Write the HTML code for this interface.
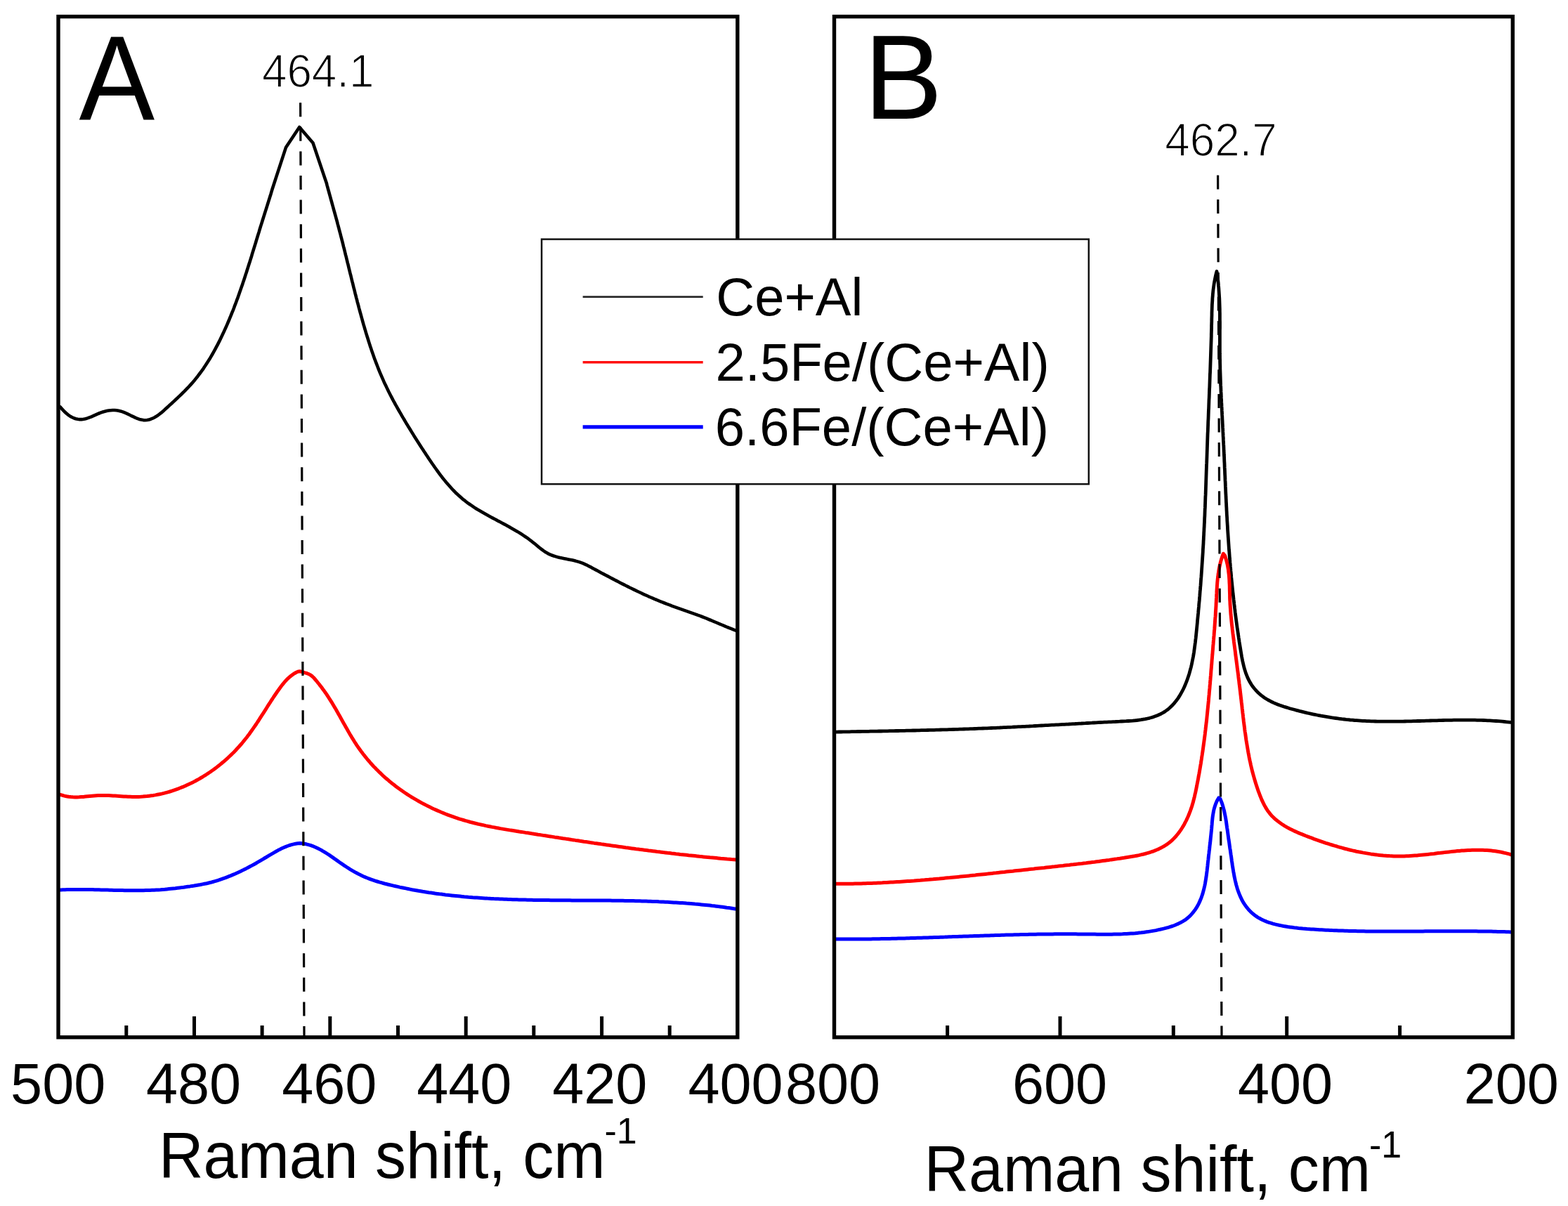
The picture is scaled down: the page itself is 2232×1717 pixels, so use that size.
<!DOCTYPE html>
<html><head><meta charset="utf-8"><title>Raman spectra</title>
<style>
html,body{margin:0;padding:0;background:#fff;}
body{width:2232px;height:1717px;overflow:hidden;}
svg{display:block;}
text{font-family:"Liberation Sans",Arial,sans-serif;fill:#000;}
</style></head><body>
<svg width="2232" height="1717" viewBox="0 0 2232 1717">
<rect width="2232" height="1717" fill="#ffffff"/>
<path d="M83.0 577.6 86.1 579.7 88.8 582.9 91.5 585.8 94.2 588.3 96.9 590.6 99.6 592.4 102.4 594.0 105.1 595.3 107.9 596.2 110.7 596.8 113.4 597.1 116.2 597.1 119.0 596.8 121.7 596.2 124.5 595.4 127.2 594.4 130.0 593.3 132.7 592.1 135.5 590.8 138.2 589.6 140.9 588.5 143.7 587.4 146.4 586.5 149.2 585.7 151.9 585.0 154.7 584.5 157.5 584.2 160.3 584.0 163.2 584.0 166.0 584.3 168.9 584.7 171.8 585.4 174.7 586.4 177.7 587.5 180.7 588.9 183.6 590.3 186.6 591.8 189.6 593.2 192.6 594.6 195.5 595.8 198.4 596.9 201.2 597.6 204.0 598.1 206.7 598.2 209.4 598.0 212.0 597.5 214.6 596.7 217.1 595.7 219.6 594.5 222.0 593.1 224.5 591.5 226.8 589.7 229.2 587.9 231.5 585.9 233.8 583.9 236.1 581.8 238.4 579.7 240.7 577.6 243.0 575.6 245.2 573.5 247.5 571.4 249.7 569.3 251.9 567.3 254.1 565.2 256.3 563.1 258.5 561.0 260.6 558.9 262.7 556.8 264.8 554.6 266.9 552.5 269.0 550.3 271.0 548.1 273.0 545.9 274.9 543.7 276.9 541.4 278.7 539.1 280.6 536.8 282.4 534.4 284.2 532.0 286.0 529.6 287.8 527.2 289.5 524.8 291.1 522.3 292.8 519.8 294.4 517.3 296.0 514.8 297.6 512.2 299.2 509.7 300.7 507.1 302.2 504.5 303.7 501.9 305.2 499.2 306.6 496.6 308.0 493.9 309.4 491.3 310.8 488.6 312.2 485.9 313.5 483.2 314.8 480.5 316.1 477.8 317.4 475.0 318.7 472.3 319.9 469.6 321.2 466.8 322.4 464.1 323.6 461.3 324.8 458.5 326.0 455.8 327.1 453.0 328.3 450.2 329.4 447.4 330.5 444.6 331.7 441.8 332.8 439.0 333.8 436.2 334.9 433.4 336.0 430.5 337.0 427.7 338.1 424.9 339.1 422.0 340.1 419.2 341.1 416.3 342.1 413.5 343.1 410.6 344.1 407.8 345.1 404.9 346.0 402.1 347.0 399.2 348.0 396.3 348.9 393.5 349.8 390.6 350.8 387.7 351.7 384.8 352.6 382.0 353.5 379.1 354.4 376.2 355.4 373.3 356.3 370.4 357.2 367.5 358.1 364.7 358.9 361.8 359.8 358.9 360.7 356.0 361.6 353.1 362.5 350.2 363.4 347.4 364.3 344.5 365.1 341.6 366.0 338.7 366.9 335.8 367.8 332.9 368.7 330.1 369.5 327.2 370.4 324.3 371.3 321.4 372.2 318.6 373.1 315.7 374.0 312.8 374.9 310.0 375.8 307.1 376.7 304.3 377.6 301.4 378.5 298.6 379.4 295.7 380.3 292.9 381.2 290.0 382.1 287.1 383.0 284.3 383.9 281.4 384.8 278.5 385.7 275.7 386.5 272.8 387.5 269.5 406.9 210.1 426.2 181.0 445.5 203.4 464.9 261.1 465.6 264.0 466.4 266.9 467.2 269.8 468.0 272.7 468.8 275.6 469.6 278.5 470.4 281.4 471.2 284.3 472.0 287.2 472.8 290.1 473.6 293.0 474.4 295.9 475.2 298.8 476.0 301.7 476.8 304.5 477.6 307.4 478.4 310.3 479.2 313.2 480.0 316.1 480.7 319.0 481.5 321.9 482.3 324.8 483.0 327.7 483.8 330.6 484.6 333.5 485.3 336.4 486.1 339.3 486.8 342.2 487.6 345.1 488.3 348.0 489.0 351.0 489.8 353.9 490.5 356.8 491.2 359.7 491.9 362.6 492.7 365.5 493.4 368.5 494.1 371.4 494.8 374.3 495.6 377.2 496.3 380.2 497.0 383.1 497.7 386.0 498.4 388.9 499.2 391.8 499.9 394.8 500.6 397.7 501.3 400.6 502.1 403.5 502.8 406.5 503.5 409.4 504.3 412.3 505.0 415.2 505.7 418.1 506.5 421.1 507.2 424.0 508.0 426.9 508.7 429.8 509.5 432.7 510.3 435.6 511.0 438.5 511.8 441.4 512.6 444.3 513.4 447.2 514.2 450.1 515.0 453.0 515.8 455.9 516.6 458.8 517.4 461.7 518.3 464.6 519.1 467.5 520.0 470.4 520.8 473.2 521.7 476.1 522.6 479.0 523.5 481.8 524.4 484.7 525.3 487.6 526.2 490.4 527.1 493.3 528.1 496.1 529.0 498.9 530.0 501.8 531.0 504.6 532.0 507.4 533.0 510.3 534.1 513.1 535.1 515.9 536.2 518.7 537.3 521.5 538.4 524.3 539.5 527.1 540.6 529.8 541.8 532.6 543.0 535.4 544.2 538.2 545.4 540.9 546.6 543.7 547.9 546.4 549.2 549.1 550.5 551.9 551.8 554.6 553.1 557.3 554.5 560.0 555.9 562.7 557.3 565.4 558.7 568.1 560.1 570.8 561.6 573.4 563.0 576.1 564.5 578.7 566.0 581.4 567.5 584.0 569.0 586.6 570.5 589.2 572.0 591.8 573.5 594.4 575.1 597.0 576.6 599.6 578.1 602.2 579.7 604.7 581.2 607.3 582.8 609.8 584.3 612.3 585.9 614.9 587.5 617.4 589.0 619.9 590.6 622.4 592.2 624.9 593.8 627.4 595.4 629.9 597.0 632.5 598.6 635.0 600.2 637.5 601.9 640.0 603.5 642.5 605.2 645.0 606.8 647.5 608.5 650.0 610.1 652.5 611.8 655.0 613.5 657.5 615.2 660.0 617.0 662.5 618.7 665.0 620.5 667.5 622.2 669.9 624.0 672.4 625.8 674.8 627.7 677.3 629.5 679.7 631.4 682.1 633.3 684.4 635.2 686.8 637.2 689.1 639.2 691.3 641.2 693.6 643.2 695.8 645.3 698.0 647.4 700.1 649.5 702.3 651.7 704.3 653.9 706.3 656.2 708.3 658.4 710.3 660.8 712.1 663.1 714.0 665.5 715.8 667.9 717.5 670.4 719.2 672.9 720.9 675.4 722.6 677.9 724.2 680.5 725.8 683.1 727.3 685.7 728.8 688.3 730.3 690.9 731.8 693.6 733.3 696.2 734.7 698.9 736.2 701.5 737.6 704.2 739.0 706.9 740.4 709.5 741.9 712.2 743.3 714.9 744.7 717.5 746.1 720.2 747.5 722.8 749.0 725.4 750.4 728.0 751.9 730.6 753.4 733.2 754.9 735.8 756.4 738.3 757.9 740.9 759.5 743.4 761.1 745.9 762.8 748.4 764.5 750.9 766.2 753.3 768.0 755.7 769.8 758.1 771.7 760.5 773.6 762.9 775.6 765.2 777.5 767.6 779.5 770.0 781.4 772.4 783.2 774.9 785.0 777.4 786.6 780.0 788.1 782.7 789.4 785.5 790.5 788.3 791.5 791.2 792.4 794.1 793.2 797.1 793.9 800.1 794.6 803.1 795.2 806.1 795.8 809.1 796.4 812.1 797.0 815.1 797.6 818.0 798.3 820.9 799.1 823.8 799.9 826.7 800.9 829.5 801.9 832.2 803.1 834.9 804.3 837.6 805.7 840.3 807.1 842.9 808.6 845.6 810.0 848.2 811.4 850.9 812.8 853.5 814.2 856.2 815.7 858.9 817.1 861.5 818.5 864.2 819.9 866.8 821.3 869.5 822.7 872.2 824.1 874.8 825.5 877.5 826.9 880.2 828.3 882.9 829.7 885.6 831.1 888.2 832.4 890.9 833.8 893.6 835.1 896.3 836.5 899.0 837.8 901.7 839.1 904.4 840.4 907.1 841.7 909.9 843.0 912.6 844.3 915.3 845.6 918.0 846.8 920.8 848.0 923.5 849.3 926.3 850.5 929.0 851.7 931.8 852.9 934.6 854.0 937.3 855.2 940.1 856.3 942.9 857.4 945.7 858.5 948.5 859.6 951.3 860.7 954.1 861.7 956.9 862.8 959.8 863.8 962.6 864.8 965.4 865.8 968.3 866.8 971.1 867.8 973.9 868.8 976.8 869.8 979.6 870.8 982.4 871.8 985.3 872.8 988.1 873.8 990.9 874.8 993.7 875.9 996.6 876.9 999.4 878.0 1002.2 879.1 1005.0 880.2 1007.8 881.4 1010.5 882.5 1013.3 883.7 1016.1 884.8 1018.9 886.0 1021.6 887.2 1024.4 888.3 1027.2 889.5 1030.0 890.7 1032.7 891.8 1035.5 893.0 1038.3 894.1 1041.1 895.2 1043.9 896.3 1046.7 897.4 1049.8 898.7" fill="none" stroke="#000" stroke-width="4.6" stroke-linejoin="round"/>
<path d="M83.0 1130.5 85.5 1131.3 88.5 1132.2 91.6 1133.1 94.6 1133.7 97.6 1134.2 100.6 1134.6 103.7 1134.8 106.7 1134.9 109.7 1134.9 112.7 1134.8 115.7 1134.6 118.7 1134.4 121.7 1134.1 124.7 1133.8 127.7 1133.5 130.7 1133.2 133.7 1132.9 136.7 1132.7 139.7 1132.5 142.8 1132.4 145.8 1132.4 148.8 1132.4 151.8 1132.5 154.9 1132.6 157.9 1132.7 160.9 1132.9 164.0 1133.1 167.0 1133.3 170.1 1133.5 173.1 1133.7 176.1 1133.9 179.2 1134.0 182.2 1134.2 185.2 1134.3 188.3 1134.4 191.3 1134.4 194.3 1134.4 197.3 1134.4 200.3 1134.3 203.3 1134.1 206.4 1133.8 209.4 1133.6 212.3 1133.2 215.3 1132.8 218.3 1132.4 221.3 1131.9 224.2 1131.3 227.2 1130.7 230.1 1130.1 233.1 1129.4 236.0 1128.6 238.9 1127.8 241.8 1127.0 244.6 1126.1 247.5 1125.1 250.4 1124.1 253.2 1123.1 256.0 1122.0 258.8 1120.9 261.6 1119.8 264.4 1118.6 267.1 1117.3 269.9 1116.0 272.6 1114.7 275.3 1113.4 278.0 1112.0 280.6 1110.5 283.3 1109.1 285.9 1107.5 288.5 1106.0 291.0 1104.4 293.6 1102.8 296.1 1101.1 298.6 1099.5 301.1 1097.7 303.6 1096.0 306.0 1094.2 308.4 1092.4 310.8 1090.5 313.2 1088.6 315.5 1086.7 317.8 1084.8 320.1 1082.8 322.4 1080.8 324.6 1078.8 326.8 1076.7 329.0 1074.6 331.2 1072.5 333.3 1070.4 335.4 1068.2 337.4 1066.0 339.5 1063.8 341.5 1061.5 343.5 1059.3 345.4 1057.0 347.3 1054.7 349.2 1052.3 351.1 1050.0 352.9 1047.6 354.7 1045.2 356.4 1042.8 358.2 1040.3 359.9 1037.9 361.6 1035.4 363.3 1033.0 365.0 1030.5 366.6 1028.0 368.3 1025.5 369.9 1022.9 371.5 1020.4 373.1 1017.9 374.8 1015.3 376.4 1012.8 378.0 1010.3 379.6 1007.7 381.2 1005.2 382.8 1002.6 384.5 1000.1 386.1 997.5 387.8 995.0 389.4 992.5 391.1 990.0 392.8 987.5 394.5 985.0 396.3 982.5 398.1 980.0 399.9 977.6 401.7 975.1 403.6 972.8 405.5 970.5 407.6 968.3 409.7 966.1 411.9 964.1 414.2 962.2 416.6 960.4 419.1 958.7 421.8 957.2 424.6 955.9 427.4 955.8 430.3 956.7 433.3 957.6 436.2 958.4 439.1 959.5 441.8 960.9 444.2 962.6 446.4 964.7 448.4 967.0 450.4 969.3 452.3 971.7 454.2 974.0 456.0 976.4 457.9 978.8 459.6 981.2 461.4 983.6 463.1 986.0 464.8 988.4 466.4 990.9 468.0 993.3 469.6 995.8 471.2 998.4 472.8 1000.9 474.3 1003.5 475.8 1006.1 477.4 1008.6 478.9 1011.3 480.4 1013.9 481.8 1016.5 483.3 1019.1 484.8 1021.8 486.3 1024.4 487.7 1027.1 489.2 1029.7 490.7 1032.3 492.2 1035.0 493.7 1037.6 495.2 1040.2 496.7 1042.9 498.2 1045.5 499.8 1048.1 501.3 1050.7 502.9 1053.2 504.5 1055.8 506.2 1058.3 507.8 1060.8 509.5 1063.3 511.2 1065.7 513.0 1068.2 514.7 1070.6 516.5 1073.0 518.4 1075.3 520.2 1077.7 522.1 1080.0 524.0 1082.3 526.0 1084.5 527.9 1086.8 529.9 1089.0 531.9 1091.2 534.0 1093.3 536.1 1095.5 538.2 1097.6 540.3 1099.7 542.5 1101.7 544.6 1103.8 546.9 1105.8 549.1 1107.8 551.4 1109.7 553.7 1111.7 556.0 1113.6 558.3 1115.5 560.7 1117.3 563.1 1119.2 565.5 1121.0 567.9 1122.8 570.4 1124.5 572.9 1126.3 575.4 1128.0 577.9 1129.7 580.4 1131.3 583.0 1133.0 585.5 1134.6 588.1 1136.2 590.7 1137.7 593.3 1139.2 596.0 1140.7 598.6 1142.2 601.2 1143.6 603.9 1145.0 606.6 1146.4 609.3 1147.8 612.0 1149.1 614.7 1150.4 617.4 1151.7 620.1 1152.9 622.9 1154.1 625.6 1155.3 628.4 1156.5 631.2 1157.6 633.9 1158.7 636.7 1159.8 639.5 1160.9 642.4 1161.9 645.2 1162.9 648.0 1163.9 650.9 1164.8 653.7 1165.8 656.6 1166.7 659.4 1167.5 662.3 1168.4 665.2 1169.2 668.1 1170.0 671.0 1170.8 673.9 1171.5 676.8 1172.2 679.8 1173.0 682.7 1173.6 685.6 1174.3 688.6 1174.9 691.5 1175.6 694.5 1176.2 697.4 1176.8 700.4 1177.4 703.4 1177.9 706.3 1178.5 709.3 1179.0 712.3 1179.6 715.3 1180.1 718.2 1180.6 721.2 1181.1 724.2 1181.6 727.2 1182.1 730.2 1182.5 733.2 1183.0 736.1 1183.5 739.1 1184.0 742.1 1184.4 745.1 1184.9 748.1 1185.4 751.1 1185.8 754.0 1186.3 757.0 1186.8 760.0 1187.2 763.0 1187.7 765.9 1188.2 768.9 1188.6 771.9 1189.1 774.9 1189.6 777.8 1190.0 780.8 1190.5 783.8 1190.9 786.7 1191.4 789.7 1191.9 792.7 1192.3 795.6 1192.8 798.6 1193.2 801.6 1193.7 804.5 1194.1 807.5 1194.6 810.5 1195.0 813.4 1195.5 816.4 1195.9 819.4 1196.4 822.3 1196.8 825.3 1197.3 828.3 1197.7 831.2 1198.2 834.2 1198.6 837.1 1199.0 840.1 1199.5 843.1 1199.9 846.0 1200.4 849.0 1200.8 852.0 1201.2 854.9 1201.6 857.9 1202.1 860.9 1202.5 863.8 1202.9 866.8 1203.3 869.8 1203.8 872.7 1204.2 875.7 1204.6 878.7 1205.0 881.6 1205.4 884.6 1205.8 887.6 1206.2 890.6 1206.7 893.5 1207.1 896.5 1207.5 899.5 1207.9 902.5 1208.3 905.4 1208.7 908.4 1209.0 911.4 1209.4 914.4 1209.8 917.3 1210.2 920.3 1210.6 923.3 1211.0 926.3 1211.3 929.3 1211.7 932.3 1212.1 935.3 1212.5 938.3 1212.8 941.3 1213.2 944.2 1213.6 947.2 1213.9 950.2 1214.3 953.2 1214.6 956.2 1215.0 959.2 1215.3 962.3 1215.7 965.3 1216.0 968.3 1216.4 971.3 1216.7 974.3 1217.0 977.3 1217.3 980.3 1217.7 983.4 1218.0 986.4 1218.3 989.4 1218.6 992.4 1218.9 995.5 1219.3 998.5 1219.6 1001.5 1219.9 1004.6 1220.2 1007.6 1220.5 1010.6 1220.8 1013.7 1221.0 1016.7 1221.3 1019.8 1221.6 1022.8 1221.9 1025.9 1222.2 1029.0 1222.4 1032.0 1222.7 1035.1 1223.0 1038.2 1223.2 1041.2 1223.5 1044.3 1223.7 1047.4 1224.0 1049.8 1224.2" fill="none" stroke="#ff0000" stroke-width="5.0" stroke-linejoin="round"/>
<path d="M83.0 1267.1 86.5 1266.9 89.5 1266.8 92.5 1266.7 95.5 1266.6 98.6 1266.5 101.6 1266.5 104.6 1266.5 107.6 1266.4 110.7 1266.4 113.7 1266.4 116.7 1266.4 119.7 1266.5 122.8 1266.5 125.8 1266.5 128.8 1266.6 131.8 1266.6 134.9 1266.7 137.9 1266.8 140.9 1266.8 143.9 1266.9 147.0 1267.0 150.0 1267.1 153.0 1267.1 156.0 1267.2 159.0 1267.3 162.1 1267.4 165.1 1267.4 168.1 1267.5 171.1 1267.6 174.2 1267.6 177.2 1267.7 180.2 1267.7 183.2 1267.8 186.2 1267.8 189.3 1267.8 192.3 1267.8 195.3 1267.8 198.3 1267.8 201.3 1267.7 204.3 1267.7 207.4 1267.6 210.4 1267.5 213.4 1267.4 216.4 1267.3 219.4 1267.2 222.4 1267.0 225.4 1266.9 228.4 1266.7 231.4 1266.4 234.5 1266.2 237.5 1265.9 240.5 1265.6 243.5 1265.3 246.5 1265.0 249.5 1264.7 252.5 1264.3 255.5 1263.9 258.5 1263.6 261.5 1263.2 264.5 1262.7 267.5 1262.3 270.5 1261.9 273.4 1261.4 276.4 1261.0 279.4 1260.5 282.4 1260.0 285.4 1259.5 288.3 1258.9 291.3 1258.3 294.3 1257.7 297.2 1257.0 300.1 1256.3 303.0 1255.5 305.9 1254.7 308.8 1253.8 311.7 1252.9 314.6 1251.9 317.4 1250.9 320.3 1249.9 323.1 1248.8 325.9 1247.7 328.7 1246.6 331.5 1245.4 334.3 1244.2 337.1 1242.9 339.8 1241.7 342.6 1240.4 345.3 1239.1 348.0 1237.7 350.7 1236.4 353.4 1235.0 356.1 1233.5 358.8 1232.1 361.4 1230.7 364.1 1229.2 366.7 1227.7 369.3 1226.2 371.9 1224.6 374.5 1223.1 377.1 1221.5 379.7 1220.0 382.3 1218.4 384.9 1216.8 387.5 1215.3 390.1 1213.8 392.8 1212.3 395.4 1210.8 398.1 1209.4 400.8 1208.1 403.6 1206.8 406.4 1205.6 409.2 1204.5 412.0 1203.5 414.9 1202.6 417.9 1201.9 420.8 1201.3 423.9 1200.8 426.9 1200.6 430.0 1200.7 433.1 1201.2 436.0 1201.8 438.9 1202.6 441.8 1203.4 444.6 1204.4 447.4 1205.5 450.1 1206.7 452.8 1208.0 455.5 1209.4 458.1 1210.8 460.7 1212.3 463.3 1213.9 465.8 1215.5 468.4 1217.2 470.9 1218.9 473.4 1220.6 475.9 1222.4 478.4 1224.1 480.9 1225.9 483.4 1227.7 485.9 1229.4 488.4 1231.1 491.0 1232.9 493.5 1234.5 496.1 1236.2 498.7 1237.8 501.3 1239.3 503.9 1240.8 506.5 1242.3 509.2 1243.7 511.9 1245.1 514.6 1246.4 517.3 1247.7 520.0 1248.9 522.8 1250.0 525.6 1251.1 528.4 1252.2 531.3 1253.2 534.1 1254.1 537.0 1255.0 539.9 1255.9 542.8 1256.7 545.7 1257.5 548.6 1258.3 551.5 1259.0 554.5 1259.7 557.4 1260.4 560.3 1261.1 563.3 1261.8 566.2 1262.4 569.1 1263.1 572.1 1263.7 575.0 1264.3 578.0 1264.9 580.9 1265.5 583.9 1266.1 586.8 1266.7 589.8 1267.2 592.7 1267.7 595.7 1268.3 598.6 1268.8 601.6 1269.3 604.5 1269.7 607.5 1270.2 610.4 1270.7 613.4 1271.1 616.4 1271.5 619.3 1272.0 622.3 1272.4 625.3 1272.8 628.2 1273.1 631.2 1273.5 634.2 1273.9 637.1 1274.2 640.1 1274.6 643.1 1274.9 646.1 1275.2 649.0 1275.5 652.0 1275.8 655.0 1276.1 658.0 1276.4 660.9 1276.7 663.9 1276.9 666.9 1277.2 669.9 1277.4 672.9 1277.7 675.9 1277.9 678.8 1278.1 681.8 1278.3 684.8 1278.5 687.8 1278.7 690.8 1278.9 693.8 1279.1 696.8 1279.2 699.8 1279.4 702.8 1279.6 705.8 1279.7 708.8 1279.8 711.8 1280.0 714.8 1280.1 717.8 1280.2 720.8 1280.3 723.8 1280.5 726.8 1280.6 729.8 1280.7 732.8 1280.8 735.8 1280.8 738.8 1280.9 741.8 1281.0 744.8 1281.1 747.8 1281.1 750.8 1281.2 753.8 1281.3 756.8 1281.3 759.8 1281.4 762.8 1281.4 765.9 1281.5 768.9 1281.5 771.9 1281.6 774.9 1281.6 777.9 1281.6 780.9 1281.6 783.9 1281.7 786.9 1281.7 790.0 1281.7 793.0 1281.7 796.0 1281.8 799.0 1281.8 802.0 1281.8 805.0 1281.8 808.1 1281.8 811.1 1281.8 814.1 1281.9 817.1 1281.9 820.1 1281.9 823.2 1281.9 826.2 1281.9 829.2 1281.9 832.2 1281.9 835.2 1281.9 838.3 1281.9 841.3 1282.0 844.3 1282.0 847.3 1282.0 850.4 1282.0 853.4 1282.0 856.4 1282.0 859.4 1282.1 862.4 1282.1 865.5 1282.1 868.5 1282.1 871.5 1282.2 874.5 1282.2 877.6 1282.2 880.6 1282.3 883.6 1282.3 886.6 1282.3 889.7 1282.4 892.7 1282.4 895.7 1282.5 898.7 1282.6 901.7 1282.6 904.8 1282.7 907.8 1282.8 910.8 1282.8 913.8 1282.9 916.9 1283.0 919.9 1283.1 922.9 1283.2 925.9 1283.3 929.0 1283.4 932.0 1283.5 935.0 1283.6 938.0 1283.8 941.0 1283.9 944.1 1284.0 947.1 1284.2 950.1 1284.3 953.1 1284.5 956.1 1284.7 959.2 1284.9 962.2 1285.0 965.2 1285.2 968.2 1285.4 971.2 1285.6 974.3 1285.8 977.3 1286.1 980.3 1286.3 983.3 1286.5 986.3 1286.8 989.3 1287.1 992.3 1287.3 995.4 1287.6 998.4 1287.9 1001.4 1288.2 1004.4 1288.5 1007.4 1288.8 1010.4 1289.1 1013.4 1289.5 1016.4 1289.8 1019.5 1290.2 1022.5 1290.6 1025.5 1290.9 1028.5 1291.3 1031.5 1291.7 1034.5 1292.2 1037.5 1292.6 1040.5 1293.0 1043.5 1293.5 1046.5 1293.9 1049.8 1294.4" fill="none" stroke="#0000ff" stroke-width="5.0" stroke-linejoin="round"/>
<path d="M1187.5 1042.1 1191.4 1042.1 1194.3 1042.0 1197.3 1042.0 1200.3 1041.9 1203.2 1041.9 1206.2 1041.8 1209.2 1041.8 1212.2 1041.7 1215.2 1041.6 1218.1 1041.6 1221.1 1041.5 1224.1 1041.5 1227.1 1041.4 1230.1 1041.4 1233.1 1041.3 1236.1 1041.3 1239.1 1041.2 1242.1 1041.2 1245.1 1041.1 1248.1 1041.1 1251.1 1041.0 1254.2 1041.0 1257.2 1040.9 1260.2 1040.8 1263.2 1040.8 1266.2 1040.7 1269.2 1040.7 1272.3 1040.6 1275.3 1040.5 1278.3 1040.5 1281.3 1040.4 1284.4 1040.4 1287.4 1040.3 1290.4 1040.2 1293.4 1040.2 1296.5 1040.1 1299.5 1040.0 1302.5 1040.0 1305.6 1039.9 1308.6 1039.8 1311.6 1039.7 1314.7 1039.7 1317.7 1039.6 1320.7 1039.5 1323.7 1039.4 1326.8 1039.4 1329.8 1039.3 1332.8 1039.2 1335.9 1039.1 1338.9 1039.0 1341.9 1038.9 1344.9 1038.9 1348.0 1038.8 1351.0 1038.7 1354.0 1038.6 1357.0 1038.5 1360.0 1038.4 1363.1 1038.3 1366.1 1038.2 1369.1 1038.1 1372.1 1038.0 1375.1 1037.9 1378.1 1037.8 1381.1 1037.7 1384.1 1037.6 1387.1 1037.5 1390.1 1037.4 1393.1 1037.2 1396.1 1037.1 1399.1 1037.0 1402.1 1036.9 1405.1 1036.8 1408.1 1036.6 1411.1 1036.5 1414.0 1036.4 1417.0 1036.3 1420.0 1036.1 1423.0 1036.0 1426.0 1035.8 1428.9 1035.7 1431.9 1035.6 1434.9 1035.4 1437.9 1035.3 1440.8 1035.2 1443.8 1035.0 1446.8 1034.9 1449.7 1034.7 1452.7 1034.6 1455.7 1034.4 1458.6 1034.3 1461.6 1034.1 1464.6 1034.0 1467.5 1033.8 1470.5 1033.7 1473.5 1033.5 1476.4 1033.4 1479.4 1033.2 1482.4 1033.0 1485.4 1032.9 1488.3 1032.7 1491.3 1032.6 1494.3 1032.4 1497.2 1032.2 1500.2 1032.1 1503.2 1031.9 1506.2 1031.8 1509.2 1031.6 1512.1 1031.4 1515.1 1031.3 1518.1 1031.1 1521.1 1031.0 1524.1 1030.8 1527.1 1030.6 1530.1 1030.5 1533.1 1030.3 1536.1 1030.1 1539.1 1030.0 1542.1 1029.8 1545.1 1029.7 1548.1 1029.5 1551.1 1029.3 1554.1 1029.2 1557.2 1029.0 1560.2 1028.9 1563.2 1028.7 1566.3 1028.5 1569.3 1028.4 1572.3 1028.2 1575.4 1028.1 1578.4 1027.9 1581.5 1027.8 1584.5 1027.6 1587.6 1027.5 1590.7 1027.3 1593.7 1027.2 1596.8 1027.0 1599.9 1026.8 1603.0 1026.7 1606.1 1026.5 1609.1 1026.3 1612.2 1026.1 1615.3 1025.8 1618.4 1025.5 1621.4 1025.1 1624.4 1024.7 1627.5 1024.2 1630.5 1023.7 1633.5 1023.0 1636.4 1022.3 1639.3 1021.5 1642.2 1020.6 1645.0 1019.6 1647.8 1018.5 1650.5 1017.3 1653.1 1016.0 1655.6 1014.6 1658.1 1013.1 1660.5 1011.4 1662.8 1009.7 1665.0 1007.8 1667.1 1005.8 1669.2 1003.7 1671.1 1001.6 1673.0 999.3 1674.8 997.0 1676.6 994.6 1678.2 992.1 1679.8 989.5 1681.3 986.9 1682.8 984.2 1684.2 981.5 1685.5 978.8 1686.7 976.0 1687.9 973.1 1689.0 970.3 1690.1 967.4 1691.1 964.5 1692.1 961.5 1693.0 958.6 1693.8 955.7 1694.6 952.7 1695.4 949.8 1696.1 946.8 1696.7 943.9 1697.3 940.9 1697.9 938.0 1698.5 935.0 1699.0 932.0 1699.5 929.1 1699.9 926.1 1700.3 923.1 1700.7 920.1 1701.1 917.2 1701.5 914.2 1701.8 911.2 1702.2 908.2 1702.5 905.2 1702.8 902.2 1703.1 899.2 1703.4 896.3 1703.7 893.3 1704.0 890.3 1704.3 887.3 1704.5 884.3 1704.8 881.3 1705.1 878.3 1705.4 875.3 1705.7 872.4 1705.9 869.4 1706.2 866.4 1706.5 863.4 1706.7 860.4 1707.0 857.4 1707.3 854.4 1707.5 851.4 1707.8 848.4 1708.0 845.4 1708.2 842.5 1708.5 839.5 1708.7 836.5 1709.0 833.5 1709.2 830.5 1709.4 827.5 1709.6 824.5 1709.9 821.5 1710.1 818.5 1710.3 815.5 1710.5 812.5 1710.7 809.5 1710.9 806.5 1711.1 803.5 1711.3 800.5 1711.5 797.5 1711.7 794.5 1711.9 791.5 1712.1 788.5 1712.3 785.5 1712.4 782.5 1712.6 779.5 1712.8 776.5 1713.0 773.5 1713.1 770.5 1713.3 767.5 1713.4 764.5 1713.6 761.5 1713.7 758.5 1713.9 755.5 1714.0 752.5 1714.2 749.5 1714.3 746.5 1714.5 743.5 1714.6 740.5 1714.7 737.5 1714.9 734.5 1715.0 731.5 1715.1 728.4 1715.2 725.4 1715.4 722.4 1715.5 719.4 1715.6 716.4 1715.7 713.4 1715.8 710.4 1715.9 707.4 1716.1 704.4 1716.2 701.4 1716.3 698.4 1716.4 695.4 1716.5 692.3 1716.6 689.3 1716.7 686.3 1716.8 683.3 1716.9 680.3 1717.0 677.3 1717.1 674.3 1717.2 671.3 1717.3 668.3 1717.4 665.3 1717.5 662.3 1717.7 659.2 1717.8 656.2 1717.9 653.2 1718.0 650.2 1718.1 647.2 1718.2 644.2 1718.3 641.2 1718.4 638.2 1718.5 635.2 1718.6 632.2 1718.7 629.2 1718.8 626.2 1718.9 623.2 1719.0 620.1 1719.1 617.1 1719.3 614.1 1719.4 611.1 1719.5 608.1 1719.6 605.1 1719.7 602.1 1719.8 599.1 1720.0 596.1 1720.1 593.1 1720.2 590.1 1720.3 587.1 1720.4 584.1 1720.6 581.1 1720.7 578.1 1720.8 575.1 1720.9 572.1 1721.0 569.1 1721.2 566.1 1721.3 563.1 1721.4 560.1 1721.5 557.1 1721.6 554.1 1721.8 551.1 1721.9 548.1 1722.0 545.0 1722.1 542.0 1722.2 539.0 1722.3 536.0 1722.4 533.0 1722.6 530.0 1722.7 527.0 1722.8 524.0 1722.9 521.0 1723.0 518.0 1723.1 515.0 1723.2 512.0 1723.3 509.0 1723.4 506.0 1723.5 503.0 1723.6 500.0 1723.7 497.0 1723.8 494.0 1723.9 491.0 1724.0 487.9 1724.1 484.9 1724.2 481.9 1724.3 478.9 1724.3 475.9 1724.4 472.9 1724.5 469.9 1724.6 466.9 1724.6 463.9 1724.7 460.9 1724.8 457.8 1724.8 454.8 1724.9 451.8 1725.0 448.8 1725.0 445.8 1725.1 442.8 1725.2 439.8 1725.3 436.8 1725.4 433.8 1725.6 430.8 1725.8 427.8 1725.9 424.8 1726.2 421.8 1726.4 418.8 1726.7 415.8 1727.0 412.8 1727.4 409.8 1727.8 406.9 1728.2 403.9 1728.7 401.0 1729.3 398.0 1729.9 395.1 1730.5 392.1 1731.2 389.2 1732.0 386.3 1732.5 389.2 1732.9 392.2 1733.3 395.2 1733.6 398.1 1734.0 401.1 1734.3 404.1 1734.5 407.0 1734.8 410.0 1735.0 413.0 1735.2 416.0 1735.4 419.0 1735.6 422.0 1735.8 425.0 1735.9 428.0 1736.0 431.0 1736.1 434.0 1736.2 437.0 1736.3 440.0 1736.3 443.0 1736.4 446.1 1736.4 449.1 1736.4 452.1 1736.4 455.1 1736.5 458.1 1736.5 461.2 1736.5 464.2 1736.5 467.2 1736.4 470.2 1736.4 473.2 1736.4 476.3 1736.4 479.3 1736.4 482.3 1736.4 485.3 1736.4 488.4 1736.4 491.4 1736.4 494.4 1736.4 497.4 1736.4 500.4 1736.4 503.4 1736.5 506.5 1736.5 509.5 1736.6 512.5 1736.6 515.5 1736.7 518.5 1736.8 521.5 1736.8 524.5 1736.9 527.5 1737.0 530.5 1737.1 533.5 1737.2 536.5 1737.3 539.5 1737.4 542.5 1737.5 545.5 1737.6 548.4 1737.8 551.4 1737.9 554.4 1738.0 557.4 1738.2 560.4 1738.3 563.4 1738.4 566.4 1738.6 569.4 1738.7 572.4 1738.9 575.4 1739.0 578.4 1739.2 581.4 1739.3 584.4 1739.5 587.4 1739.6 590.4 1739.8 593.4 1739.9 596.3 1740.1 599.3 1740.2 602.3 1740.4 605.3 1740.5 608.4 1740.7 611.4 1740.8 614.4 1741.0 617.4 1741.1 620.4 1741.3 623.4 1741.4 626.4 1741.6 629.4 1741.7 632.4 1741.9 635.5 1742.0 638.5 1742.1 641.5 1742.3 644.5 1742.4 647.5 1742.6 650.6 1742.7 653.6 1742.8 656.6 1743.0 659.6 1743.1 662.7 1743.2 665.7 1743.4 668.7 1743.5 671.7 1743.6 674.8 1743.8 677.8 1743.9 680.8 1744.0 683.9 1744.2 686.9 1744.3 689.9 1744.4 692.9 1744.6 695.9 1744.7 699.0 1744.8 702.0 1745.0 705.0 1745.1 708.0 1745.3 711.0 1745.4 714.1 1745.6 717.1 1745.7 720.1 1745.9 723.1 1746.0 726.1 1746.2 729.1 1746.3 732.1 1746.5 735.1 1746.7 738.1 1746.8 741.1 1747.0 744.1 1747.2 747.1 1747.4 750.1 1747.5 753.1 1747.7 756.0 1747.9 759.0 1748.1 762.0 1748.3 765.0 1748.5 767.9 1748.7 770.9 1748.9 773.9 1749.1 776.9 1749.3 779.8 1749.5 782.8 1749.8 785.7 1750.0 788.7 1750.2 791.7 1750.4 794.6 1750.7 797.6 1750.9 800.5 1751.2 803.5 1751.4 806.5 1751.7 809.4 1751.9 812.4 1752.2 815.3 1752.5 818.3 1752.7 821.2 1753.0 824.2 1753.3 827.2 1753.6 830.1 1753.9 833.1 1754.2 836.0 1754.5 839.0 1754.8 842.0 1755.1 844.9 1755.5 847.9 1755.8 850.9 1756.1 853.8 1756.5 856.8 1756.8 859.8 1757.2 862.8 1757.5 865.7 1757.9 868.7 1758.2 871.7 1758.6 874.7 1759.0 877.7 1759.4 880.7 1759.8 883.7 1760.2 886.7 1760.6 889.7 1761.0 892.7 1761.4 895.7 1761.9 898.7 1762.3 901.7 1762.8 904.8 1763.2 907.8 1763.7 910.8 1764.1 913.9 1764.6 916.9 1765.1 919.9 1765.6 923.0 1766.1 926.1 1766.6 929.1 1767.1 932.2 1767.6 935.2 1768.2 938.3 1768.8 941.3 1769.5 944.3 1770.2 947.3 1770.9 950.3 1771.8 953.2 1772.7 956.1 1773.6 958.9 1774.7 961.7 1775.8 964.4 1777.1 967.1 1778.4 969.7 1779.9 972.3 1781.4 974.8 1783.1 977.2 1784.9 979.5 1786.8 981.7 1788.7 983.9 1790.8 986.0 1793.0 988.0 1795.2 989.9 1797.6 991.7 1800.0 993.4 1802.5 995.0 1805.0 996.5 1807.7 997.9 1810.3 999.3 1813.1 1000.6 1815.9 1001.8 1818.7 1002.9 1821.6 1004.0 1824.5 1005.0 1827.4 1006.0 1830.3 1006.9 1833.3 1007.8 1836.2 1008.7 1839.2 1009.5 1842.2 1010.3 1845.1 1011.1 1848.1 1011.9 1851.1 1012.7 1854.0 1013.4 1857.0 1014.1 1859.9 1014.8 1862.9 1015.5 1865.8 1016.2 1868.8 1016.8 1871.7 1017.4 1874.7 1018.0 1877.6 1018.6 1880.6 1019.2 1883.5 1019.7 1886.5 1020.2 1889.4 1020.7 1892.4 1021.2 1895.3 1021.7 1898.3 1022.1 1901.3 1022.5 1904.2 1022.9 1907.2 1023.3 1910.1 1023.7 1913.1 1024.0 1916.1 1024.4 1919.0 1024.7 1922.0 1025.0 1925.0 1025.2 1927.9 1025.5 1930.9 1025.7 1933.9 1025.9 1936.9 1026.1 1939.8 1026.3 1942.8 1026.4 1945.8 1026.6 1948.8 1026.7 1951.8 1026.8 1954.8 1026.9 1957.8 1027.0 1960.8 1027.1 1963.8 1027.1 1966.8 1027.2 1969.8 1027.2 1972.8 1027.2 1975.8 1027.2 1978.8 1027.2 1981.8 1027.2 1984.8 1027.2 1987.9 1027.2 1990.9 1027.1 1993.9 1027.1 1996.9 1027.1 1999.9 1027.0 2002.9 1026.9 2006.0 1026.9 2009.0 1026.8 2012.0 1026.7 2015.0 1026.6 2018.0 1026.5 2021.1 1026.5 2024.1 1026.4 2027.1 1026.3 2030.1 1026.2 2033.2 1026.1 2036.2 1026.0 2039.2 1025.9 2042.2 1025.8 2045.3 1025.8 2048.3 1025.7 2051.3 1025.6 2054.3 1025.5 2057.4 1025.4 2060.4 1025.4 2063.4 1025.3 2066.4 1025.3 2069.4 1025.2 2072.5 1025.2 2075.5 1025.1 2078.5 1025.1 2081.5 1025.1 2084.5 1025.1 2087.6 1025.1 2090.6 1025.1 2093.6 1025.1 2096.6 1025.2 2099.6 1025.2 2102.6 1025.3 2105.6 1025.3 2108.6 1025.4 2111.6 1025.5 2114.6 1025.6 2117.6 1025.8 2120.6 1025.9 2123.6 1026.1 2126.6 1026.3 2129.6 1026.5 2132.6 1026.7 2135.6 1026.9 2138.6 1027.2 2141.6 1027.5 2144.6 1027.8 2147.5 1028.1 2150.5 1028.4 2153.3 1028.7" fill="none" stroke="#000" stroke-width="4.8" stroke-linejoin="round"/>
<path d="M1187.5 1258.3 1190.0 1258.3 1193.0 1258.3 1196.0 1258.3 1199.0 1258.3 1202.0 1258.3 1205.0 1258.3 1208.0 1258.2 1210.9 1258.2 1213.9 1258.2 1216.9 1258.1 1219.9 1258.0 1222.9 1258.0 1225.9 1257.9 1228.9 1257.8 1231.9 1257.7 1234.9 1257.6 1237.9 1257.5 1240.9 1257.4 1243.9 1257.3 1246.9 1257.2 1249.9 1257.0 1252.9 1256.9 1255.9 1256.8 1258.9 1256.6 1261.9 1256.5 1264.9 1256.3 1267.9 1256.1 1270.9 1256.0 1273.9 1255.8 1276.9 1255.6 1279.9 1255.4 1282.9 1255.2 1285.9 1255.0 1288.9 1254.8 1291.9 1254.6 1294.9 1254.4 1298.0 1254.2 1301.0 1254.0 1304.0 1253.7 1307.0 1253.5 1310.0 1253.3 1313.0 1253.0 1316.0 1252.8 1319.0 1252.5 1322.0 1252.3 1325.0 1252.0 1328.0 1251.8 1331.0 1251.5 1334.0 1251.2 1337.0 1251.0 1340.0 1250.7 1343.0 1250.4 1346.0 1250.1 1349.0 1249.8 1352.0 1249.6 1355.0 1249.3 1358.0 1249.0 1361.0 1248.7 1364.0 1248.4 1367.0 1248.1 1370.0 1247.8 1373.0 1247.5 1376.0 1247.2 1379.0 1246.9 1382.0 1246.6 1385.0 1246.3 1388.0 1246.0 1391.0 1245.6 1394.0 1245.3 1397.0 1245.0 1400.0 1244.7 1403.0 1244.4 1406.0 1244.1 1409.0 1243.7 1412.0 1243.4 1414.9 1243.1 1417.9 1242.8 1420.9 1242.4 1423.9 1242.1 1426.9 1241.8 1429.9 1241.5 1432.9 1241.1 1435.9 1240.8 1438.8 1240.5 1441.8 1240.2 1444.8 1239.8 1447.8 1239.5 1450.8 1239.2 1453.7 1238.9 1456.7 1238.6 1459.7 1238.2 1462.7 1237.9 1465.6 1237.6 1468.6 1237.3 1471.6 1237.0 1474.6 1236.6 1477.5 1236.3 1480.5 1236.0 1483.5 1235.7 1486.4 1235.4 1489.4 1235.0 1492.4 1234.7 1495.3 1234.4 1498.3 1234.1 1501.3 1233.8 1504.2 1233.4 1507.2 1233.1 1510.2 1232.8 1513.2 1232.5 1516.1 1232.1 1519.1 1231.8 1522.1 1231.5 1525.0 1231.1 1528.0 1230.8 1531.0 1230.4 1534.0 1230.1 1537.0 1229.7 1539.9 1229.4 1542.9 1229.0 1545.9 1228.7 1548.9 1228.3 1551.9 1227.9 1554.9 1227.5 1557.9 1227.2 1560.9 1226.8 1563.9 1226.4 1566.9 1226.0 1569.9 1225.6 1572.9 1225.2 1575.9 1224.8 1578.9 1224.4 1581.9 1223.9 1584.9 1223.5 1587.9 1223.1 1591.0 1222.6 1594.0 1222.2 1597.0 1221.7 1600.1 1221.3 1603.1 1220.8 1606.2 1220.3 1609.2 1219.8 1612.2 1219.3 1615.2 1218.8 1618.3 1218.2 1621.3 1217.6 1624.2 1216.9 1627.2 1216.2 1630.1 1215.5 1633.0 1214.7 1635.9 1213.8 1638.7 1212.9 1641.6 1212.0 1644.3 1210.9 1647.0 1209.8 1649.7 1208.6 1652.3 1207.3 1654.9 1205.9 1657.4 1204.5 1659.9 1202.9 1662.3 1201.2 1664.6 1199.5 1666.9 1197.6 1669.1 1195.6 1671.2 1193.5 1673.3 1191.3 1675.2 1189.0 1677.2 1186.6 1679.0 1184.2 1680.8 1181.6 1682.5 1179.0 1684.1 1176.4 1685.7 1173.7 1687.1 1170.9 1688.6 1168.1 1689.9 1165.3 1691.2 1162.4 1692.4 1159.6 1693.5 1156.7 1694.6 1153.8 1695.6 1150.9 1696.6 1148.0 1697.4 1145.2 1698.3 1142.3 1699.0 1139.4 1699.8 1136.5 1700.5 1133.6 1701.1 1130.7 1701.8 1127.8 1702.4 1124.9 1703.0 1122.0 1703.6 1119.1 1704.1 1116.2 1704.7 1113.3 1705.3 1110.3 1705.8 1107.4 1706.3 1104.5 1706.9 1101.5 1707.4 1098.6 1707.9 1095.6 1708.4 1092.7 1708.9 1089.7 1709.4 1086.8 1709.8 1083.8 1710.3 1080.9 1710.7 1077.9 1711.2 1074.9 1711.6 1072.0 1712.1 1069.0 1712.5 1066.0 1712.9 1063.0 1713.3 1060.1 1713.7 1057.1 1714.1 1054.1 1714.5 1051.1 1714.9 1048.1 1715.3 1045.1 1715.6 1042.1 1716.0 1039.1 1716.3 1036.2 1716.7 1033.2 1717.0 1030.2 1717.4 1027.2 1717.7 1024.2 1718.0 1021.2 1718.3 1018.2 1718.6 1015.2 1718.9 1012.2 1719.2 1009.2 1719.5 1006.2 1719.8 1003.2 1720.1 1000.2 1720.4 997.2 1720.6 994.2 1720.9 991.2 1721.2 988.2 1721.4 985.2 1721.7 982.2 1722.0 979.2 1722.2 976.2 1722.5 973.2 1722.7 970.2 1723.0 967.2 1723.2 964.2 1723.5 961.2 1723.7 958.3 1723.9 955.3 1724.2 952.3 1724.4 949.3 1724.7 946.3 1724.9 943.3 1725.1 940.3 1725.4 937.3 1725.6 934.3 1725.9 931.3 1726.1 928.3 1726.4 925.3 1726.6 922.3 1726.8 919.4 1727.1 916.4 1727.3 913.4 1727.6 910.4 1727.8 907.4 1728.1 904.4 1728.3 901.4 1728.5 898.4 1728.8 895.5 1729.0 892.5 1729.2 889.5 1729.4 886.5 1729.6 883.5 1729.8 880.5 1730.1 877.5 1730.3 874.5 1730.4 871.5 1730.6 868.5 1730.8 865.5 1731.0 862.5 1731.1 859.5 1731.3 856.5 1731.4 853.4 1731.6 850.4 1731.7 847.4 1731.9 844.4 1732.0 841.4 1732.2 838.4 1732.4 835.3 1732.6 832.3 1732.8 829.3 1733.1 826.3 1733.4 823.3 1733.8 820.4 1734.1 817.4 1734.6 814.4 1735.0 811.5 1735.6 808.5 1736.2 805.6 1736.9 802.6 1737.6 799.7 1738.4 796.8 1739.3 793.9 1740.3 791.1 1741.3 788.2 1743.6 791.1 1744.5 793.9 1745.4 796.8 1746.2 799.7 1746.9 802.6 1747.5 805.5 1748.0 808.5 1748.5 811.4 1748.8 814.4 1749.2 817.4 1749.5 820.3 1749.7 823.3 1749.9 826.3 1750.0 829.3 1750.2 832.3 1750.3 835.4 1750.3 838.4 1750.4 841.4 1750.5 844.4 1750.6 847.5 1750.6 850.5 1750.7 853.5 1750.9 856.5 1751.0 859.6 1751.2 862.6 1751.4 865.6 1751.6 868.6 1751.8 871.6 1752.0 874.6 1752.3 877.6 1752.6 880.6 1752.9 883.7 1753.2 886.7 1753.5 889.7 1753.9 892.6 1754.2 895.6 1754.6 898.6 1754.9 901.6 1755.3 904.6 1755.7 907.6 1756.1 910.6 1756.4 913.6 1756.8 916.5 1757.2 919.5 1757.6 922.5 1758.0 925.5 1758.4 928.4 1758.7 931.4 1759.1 934.4 1759.5 937.4 1759.9 940.3 1760.3 943.3 1760.7 946.3 1761.0 949.2 1761.4 952.2 1761.8 955.2 1762.2 958.1 1762.6 961.1 1762.9 964.1 1763.3 967.1 1763.7 970.0 1764.0 973.0 1764.4 976.0 1764.8 979.0 1765.1 981.9 1765.5 984.9 1765.8 987.9 1766.2 990.9 1766.5 993.9 1766.9 996.9 1767.2 999.8 1767.6 1002.8 1767.9 1005.8 1768.2 1008.8 1768.6 1011.8 1768.9 1014.8 1769.3 1017.8 1769.6 1020.8 1770.0 1023.8 1770.3 1026.8 1770.7 1029.8 1771.1 1032.8 1771.5 1035.8 1771.8 1038.8 1772.2 1041.8 1772.7 1044.7 1773.1 1047.7 1773.5 1050.7 1773.9 1053.7 1774.4 1056.7 1774.9 1059.7 1775.4 1062.6 1775.9 1065.6 1776.4 1068.6 1776.9 1071.5 1777.5 1074.5 1778.0 1077.4 1778.6 1080.4 1779.2 1083.3 1779.9 1086.3 1780.5 1089.2 1781.2 1092.2 1781.9 1095.1 1782.6 1098.0 1783.4 1100.9 1784.2 1103.8 1785.0 1106.7 1785.8 1109.6 1786.7 1112.5 1787.6 1115.4 1788.5 1118.3 1789.4 1121.1 1790.4 1124.0 1791.4 1126.8 1792.5 1129.7 1793.5 1132.5 1794.7 1135.3 1795.8 1138.1 1797.1 1140.9 1798.4 1143.6 1799.7 1146.2 1801.2 1148.9 1802.7 1151.4 1804.3 1153.9 1806.1 1156.3 1807.9 1158.6 1809.8 1160.9 1811.9 1163.0 1814.1 1165.1 1816.3 1167.1 1818.7 1168.9 1821.1 1170.8 1823.5 1172.5 1826.0 1174.2 1828.6 1175.8 1831.2 1177.3 1833.8 1178.8 1836.5 1180.2 1839.2 1181.5 1841.9 1182.9 1844.7 1184.1 1847.5 1185.4 1850.3 1186.6 1853.1 1187.7 1856.0 1188.9 1858.8 1190.0 1861.7 1191.1 1864.5 1192.2 1867.4 1193.2 1870.2 1194.3 1873.1 1195.3 1876.0 1196.3 1878.8 1197.3 1881.7 1198.3 1884.6 1199.3 1887.4 1200.3 1890.3 1201.2 1893.2 1202.1 1896.1 1203.0 1899.0 1203.9 1901.9 1204.7 1904.8 1205.6 1907.6 1206.4 1910.5 1207.2 1913.4 1208.0 1916.3 1208.7 1919.2 1209.5 1922.2 1210.2 1925.1 1210.9 1928.0 1211.5 1930.9 1212.2 1933.8 1212.8 1936.7 1213.3 1939.7 1213.9 1942.6 1214.4 1945.5 1214.9 1948.5 1215.4 1951.4 1215.9 1954.3 1216.3 1957.3 1216.7 1960.2 1217.1 1963.2 1217.4 1966.2 1217.7 1969.1 1218.0 1972.1 1218.2 1975.0 1218.4 1978.0 1218.6 1981.0 1218.7 1984.0 1218.9 1986.9 1218.9 1989.9 1219.0 1992.9 1219.0 1995.9 1219.0 1998.9 1218.9 2001.9 1218.8 2004.9 1218.7 2007.9 1218.5 2010.9 1218.3 2013.9 1218.1 2017.0 1217.9 2020.0 1217.6 2023.0 1217.3 2026.0 1217.0 2029.1 1216.7 2032.1 1216.4 2035.1 1216.1 2038.1 1215.7 2041.2 1215.4 2044.2 1215.0 2047.2 1214.6 2050.3 1214.3 2053.3 1213.9 2056.3 1213.6 2059.4 1213.2 2062.4 1212.9 2065.4 1212.6 2068.4 1212.2 2071.5 1211.9 2074.5 1211.6 2077.5 1211.4 2080.6 1211.1 2083.6 1210.9 2086.6 1210.7 2089.6 1210.5 2092.6 1210.4 2095.6 1210.3 2098.6 1210.2 2101.6 1210.2 2104.6 1210.2 2107.6 1210.2 2110.6 1210.3 2113.6 1210.4 2116.6 1210.6 2119.6 1210.8 2122.6 1211.1 2125.5 1211.4 2128.5 1211.8 2131.5 1212.3 2134.4 1212.8 2137.4 1213.3 2140.3 1214.0 2143.2 1214.6 2146.2 1215.4 2149.1 1216.2 2152.0 1217.2 2153.3 1217.4" fill="none" stroke="#ff0000" stroke-width="5.0" stroke-linejoin="round"/>
<path d="M1187.5 1337.0 1191.3 1337.0 1194.3 1337.1 1197.3 1337.1 1200.4 1337.1 1203.4 1337.1 1206.4 1337.1 1209.4 1337.1 1212.4 1337.1 1215.4 1337.1 1218.5 1337.1 1221.5 1337.0 1224.5 1337.0 1227.5 1337.0 1230.5 1337.0 1233.5 1336.9 1236.5 1336.9 1239.6 1336.9 1242.6 1336.8 1245.6 1336.8 1248.6 1336.7 1251.6 1336.7 1254.6 1336.6 1257.6 1336.6 1260.6 1336.5 1263.7 1336.5 1266.7 1336.4 1269.7 1336.3 1272.7 1336.2 1275.7 1336.2 1278.7 1336.1 1281.7 1336.0 1284.7 1335.9 1287.7 1335.9 1290.7 1335.8 1293.8 1335.7 1296.8 1335.6 1299.8 1335.5 1302.8 1335.4 1305.8 1335.3 1308.8 1335.3 1311.8 1335.2 1314.8 1335.1 1317.8 1335.0 1320.8 1334.9 1323.8 1334.8 1326.8 1334.7 1329.8 1334.6 1332.8 1334.5 1335.9 1334.4 1338.9 1334.3 1341.9 1334.2 1344.9 1334.1 1347.9 1333.9 1350.9 1333.8 1353.9 1333.7 1356.9 1333.6 1359.9 1333.5 1362.9 1333.4 1365.9 1333.3 1368.9 1333.2 1371.9 1333.1 1374.9 1333.0 1377.9 1332.9 1380.9 1332.8 1384.0 1332.7 1387.0 1332.6 1390.0 1332.5 1393.0 1332.4 1396.0 1332.3 1399.0 1332.2 1402.0 1332.1 1405.0 1332.0 1408.0 1331.9 1411.0 1331.8 1414.0 1331.7 1417.0 1331.6 1420.0 1331.5 1423.0 1331.4 1426.0 1331.3 1429.0 1331.2 1432.1 1331.1 1435.1 1331.1 1438.1 1331.0 1441.1 1330.9 1444.1 1330.8 1447.1 1330.7 1450.1 1330.7 1453.1 1330.6 1456.1 1330.5 1459.1 1330.5 1462.1 1330.4 1465.1 1330.3 1468.2 1330.3 1471.2 1330.2 1474.2 1330.2 1477.2 1330.1 1480.2 1330.1 1483.2 1330.0 1486.2 1330.0 1489.2 1330.0 1492.2 1329.9 1495.2 1329.9 1498.3 1329.9 1501.3 1329.8 1504.3 1329.8 1507.3 1329.8 1510.3 1329.8 1513.3 1329.8 1516.3 1329.8 1519.3 1329.8 1522.4 1329.8 1525.4 1329.8 1528.4 1329.8 1531.4 1329.8 1534.4 1329.9 1537.4 1329.9 1540.4 1329.9 1543.5 1330.0 1546.5 1330.0 1549.5 1330.0 1552.5 1330.1 1555.5 1330.1 1558.5 1330.1 1561.6 1330.2 1564.6 1330.2 1567.6 1330.2 1570.6 1330.2 1573.6 1330.2 1576.6 1330.2 1579.6 1330.2 1582.6 1330.2 1585.7 1330.1 1588.7 1330.0 1591.7 1330.0 1594.7 1329.9 1597.7 1329.8 1600.7 1329.6 1603.7 1329.5 1606.7 1329.3 1609.7 1329.1 1612.7 1328.9 1615.7 1328.7 1618.7 1328.4 1621.6 1328.1 1624.6 1327.8 1627.6 1327.4 1630.6 1327.0 1633.6 1326.6 1636.5 1326.1 1639.5 1325.6 1642.5 1325.1 1645.5 1324.6 1648.4 1323.9 1651.4 1323.3 1654.3 1322.6 1657.3 1321.9 1660.2 1321.1 1663.2 1320.3 1666.1 1319.4 1669.0 1318.5 1671.8 1317.5 1674.6 1316.3 1677.3 1315.1 1680.0 1313.8 1682.6 1312.4 1685.1 1310.9 1687.6 1309.3 1689.9 1307.5 1692.1 1305.6 1694.3 1303.6 1696.3 1301.4 1698.2 1299.2 1700.0 1296.8 1701.8 1294.4 1703.4 1291.9 1704.9 1289.3 1706.3 1286.6 1707.6 1283.9 1708.8 1281.1 1709.9 1278.3 1710.9 1275.5 1711.9 1272.6 1712.7 1269.7 1713.5 1266.7 1714.2 1263.7 1714.9 1260.7 1715.5 1257.7 1716.0 1254.7 1716.5 1251.6 1717.0 1248.5 1717.4 1245.5 1717.8 1242.4 1718.2 1239.3 1718.5 1236.2 1718.9 1233.1 1719.2 1230.1 1719.5 1227.0 1719.9 1224.0 1720.2 1221.0 1720.5 1218.0 1720.9 1215.0 1721.2 1212.0 1721.6 1209.1 1721.9 1206.1 1722.2 1203.1 1722.6 1200.2 1722.9 1197.2 1723.2 1194.3 1723.5 1191.3 1723.8 1188.4 1724.1 1185.4 1724.4 1182.4 1724.7 1179.4 1724.9 1176.4 1725.2 1173.4 1725.4 1170.4 1725.7 1167.4 1726.0 1164.4 1726.4 1161.4 1726.9 1158.4 1727.4 1155.5 1728.0 1152.6 1728.8 1149.7 1729.7 1146.8 1730.7 1144.0 1731.9 1141.2 1733.3 1138.5 1734.8 1135.9 1737.0 1137.4 1738.1 1140.1 1739.2 1143.0 1740.2 1145.8 1741.0 1148.7 1741.8 1151.6 1742.6 1154.5 1743.2 1157.5 1743.8 1160.4 1744.4 1163.4 1744.9 1166.4 1745.4 1169.4 1745.8 1172.4 1746.2 1175.3 1746.6 1178.3 1747.1 1181.3 1747.5 1184.2 1747.9 1187.2 1748.3 1190.1 1748.7 1193.1 1749.1 1196.0 1749.6 1198.9 1750.0 1201.9 1750.4 1204.8 1750.8 1207.8 1751.3 1210.7 1751.7 1213.7 1752.1 1216.7 1752.6 1219.7 1753.0 1222.7 1753.4 1225.8 1753.9 1228.9 1754.3 1231.9 1754.8 1235.0 1755.3 1238.1 1755.8 1241.2 1756.4 1244.3 1756.9 1247.4 1757.6 1250.5 1758.2 1253.5 1759.0 1256.6 1759.7 1259.6 1760.6 1262.6 1761.4 1265.5 1762.4 1268.4 1763.5 1271.3 1764.6 1274.1 1765.8 1276.9 1767.1 1279.6 1768.4 1282.3 1769.9 1284.9 1771.5 1287.4 1773.2 1289.8 1775.0 1292.2 1776.9 1294.5 1778.8 1296.6 1780.9 1298.7 1783.1 1300.6 1785.4 1302.5 1787.7 1304.2 1790.1 1305.8 1792.7 1307.3 1795.3 1308.7 1797.9 1310.0 1800.6 1311.2 1803.4 1312.3 1806.2 1313.3 1809.1 1314.2 1812.0 1315.1 1815.0 1315.9 1818.0 1316.6 1821.0 1317.3 1824.0 1317.9 1827.1 1318.5 1830.1 1319.0 1833.2 1319.5 1836.2 1319.9 1839.3 1320.3 1842.3 1320.7 1845.3 1321.0 1848.4 1321.4 1851.4 1321.7 1854.4 1322.0 1857.4 1322.2 1860.4 1322.5 1863.4 1322.7 1866.4 1322.9 1869.4 1323.1 1872.4 1323.3 1875.4 1323.5 1878.4 1323.7 1881.4 1323.8 1884.4 1324.0 1887.4 1324.2 1890.4 1324.3 1893.4 1324.4 1896.4 1324.6 1899.4 1324.7 1902.4 1324.8 1905.4 1324.9 1908.4 1325.0 1911.4 1325.1 1914.4 1325.2 1917.4 1325.3 1920.4 1325.4 1923.4 1325.5 1926.4 1325.5 1929.4 1325.6 1932.4 1325.7 1935.4 1325.7 1938.4 1325.8 1941.4 1325.8 1944.4 1325.9 1947.4 1325.9 1950.4 1325.9 1953.4 1325.9 1956.4 1326.0 1959.4 1326.0 1962.4 1326.0 1965.5 1326.0 1968.5 1326.0 1971.5 1326.0 1974.5 1326.1 1977.5 1326.1 1980.5 1326.1 1983.5 1326.1 1986.5 1326.0 1989.5 1326.0 1992.5 1326.0 1995.5 1326.0 1998.5 1326.0 2001.5 1326.0 2004.5 1326.0 2007.6 1326.0 2010.6 1326.0 2013.6 1325.9 2016.6 1325.9 2019.6 1325.9 2022.6 1325.9 2025.6 1325.9 2028.7 1325.8 2031.7 1325.8 2034.7 1325.8 2037.7 1325.8 2040.7 1325.8 2043.8 1325.8 2046.8 1325.7 2049.8 1325.7 2052.8 1325.7 2055.9 1325.7 2058.9 1325.7 2061.9 1325.7 2065.0 1325.7 2068.0 1325.7 2071.0 1325.7 2074.1 1325.7 2077.1 1325.7 2080.1 1325.7 2083.2 1325.7 2086.2 1325.7 2089.3 1325.7 2092.3 1325.7 2095.3 1325.8 2098.4 1325.8 2101.4 1325.8 2104.5 1325.9 2107.5 1325.9 2110.6 1325.9 2113.6 1326.0 2116.7 1326.0 2119.7 1326.1 2122.8 1326.1 2125.9 1326.2 2128.9 1326.3 2132.0 1326.4 2135.0 1326.4 2138.1 1326.5 2141.2 1326.6 2144.2 1326.7 2147.3 1326.8 2150.4 1326.9 2153.3 1327.0" fill="none" stroke="#0000ff" stroke-width="5.0" stroke-linejoin="round"/>
<line x1="427.6" y1="146.2" x2="433" y2="1476" stroke="#000" stroke-width="3.2" stroke-dasharray="20 14.6"/>
<line x1="1733.6" y1="249.5" x2="1739" y2="1476" stroke="#000" stroke-width="3.2" stroke-dasharray="20 14.6"/>
<rect x="83.0" y="23.6" width="966.8" height="1453.2" fill="none" stroke="#000" stroke-width="5.4"/>
<rect x="1187.5" y="23.6" width="965.8" height="1453.2" fill="none" stroke="#000" stroke-width="5.4"/>
<line x1="276.5" y1="1447" x2="276.5" y2="1476.8" stroke="#000" stroke-width="5"/>
<line x1="469.8" y1="1447" x2="469.8" y2="1476.8" stroke="#000" stroke-width="5"/>
<line x1="663.2" y1="1447" x2="663.2" y2="1476.8" stroke="#000" stroke-width="5"/>
<line x1="856.6" y1="1447" x2="856.6" y2="1476.8" stroke="#000" stroke-width="5"/>
<line x1="1509.0" y1="1447" x2="1509.0" y2="1476.8" stroke="#000" stroke-width="5"/>
<line x1="1831.7" y1="1447" x2="1831.7" y2="1476.8" stroke="#000" stroke-width="5"/>
<line x1="179.8" y1="1460" x2="179.8" y2="1476.8" stroke="#000" stroke-width="5"/>
<line x1="373.1" y1="1460" x2="373.1" y2="1476.8" stroke="#000" stroke-width="5"/>
<line x1="566.5" y1="1460" x2="566.5" y2="1476.8" stroke="#000" stroke-width="5"/>
<line x1="759.8" y1="1460" x2="759.8" y2="1476.8" stroke="#000" stroke-width="5"/>
<line x1="953.2" y1="1460" x2="953.2" y2="1476.8" stroke="#000" stroke-width="5"/>
<line x1="1348.6" y1="1460" x2="1348.6" y2="1476.8" stroke="#000" stroke-width="5"/>
<line x1="1670.3" y1="1460" x2="1670.3" y2="1476.8" stroke="#000" stroke-width="5"/>
<line x1="1992.6" y1="1460" x2="1992.6" y2="1476.8" stroke="#000" stroke-width="5"/>
<text x="82.7" y="1571" font-size="81" text-anchor="middle">500</text>
<text x="275.5" y="1571" font-size="81" text-anchor="middle">480</text>
<text x="468.8" y="1571" font-size="81" text-anchor="middle">460</text>
<text x="660.8" y="1571" font-size="81" text-anchor="middle">440</text>
<text x="853.8" y="1571" font-size="81" text-anchor="middle">420</text>
<text x="1047.0" y="1571" font-size="81" text-anchor="middle">400</text>
<text x="1185.5" y="1571" font-size="81" text-anchor="middle">800</text>
<text x="1508.5" y="1571" font-size="81" text-anchor="middle">600</text>
<text x="1829.5" y="1571" font-size="81" text-anchor="middle">400</text>
<text x="2151.3" y="1571" font-size="81" text-anchor="middle">200</text>
<text transform="translate(226.00 1677.00) scale(1 1.050)" font-size="88.0">Raman shift, cm</text>
<text transform="translate(860.50 1628.30) scale(1 1.000)" font-size="52.0">-1</text>
<text transform="translate(1315.40 1696.00) scale(1 1.050)" font-size="88.0">Raman shift, cm</text>
<text transform="translate(1949.00 1648.30) scale(1 1.040)" font-size="52.0">-1</text>
<text transform="translate(112.50 170.00) scale(1 1.054)" font-size="161.4">A</text>
<text transform="translate(1229.70 169.20) scale(1 1.018)" font-size="167.8">B</text>
<text transform="translate(372.90 124.40) scale(1 1.050)" font-size="63.8" stroke="#fff" stroke-width="1.4">464.1</text>
<text transform="translate(1658.20 222.00) scale(1 1.055)" font-size="63.8" stroke="#fff" stroke-width="1.4">462.7</text>
<rect x="771" y="340.6" width="778.8" height="348.6" fill="#fff" stroke="#111" stroke-width="2.5"/>
<line x1="829.6" y1="422.6" x2="1000.7" y2="422.6" stroke="#2a2a2a" stroke-width="2.6"/>
<line x1="829.6" y1="515.8" x2="1000.7" y2="515.8" stroke="#ff1010" stroke-width="3.4"/>
<line x1="829.6" y1="607.8" x2="1000.7" y2="607.8" stroke="#0000ff" stroke-width="5.2"/>
<text x="1019.3" y="448.5" font-size="76">Ce+Al</text>
<text x="1018.5" y="541.6" font-size="76">2.5Fe/(Ce+Al)</text>
<text x="1017.8" y="634" font-size="76">6.6Fe/(Ce+Al)</text>
</svg>
</body></html>
